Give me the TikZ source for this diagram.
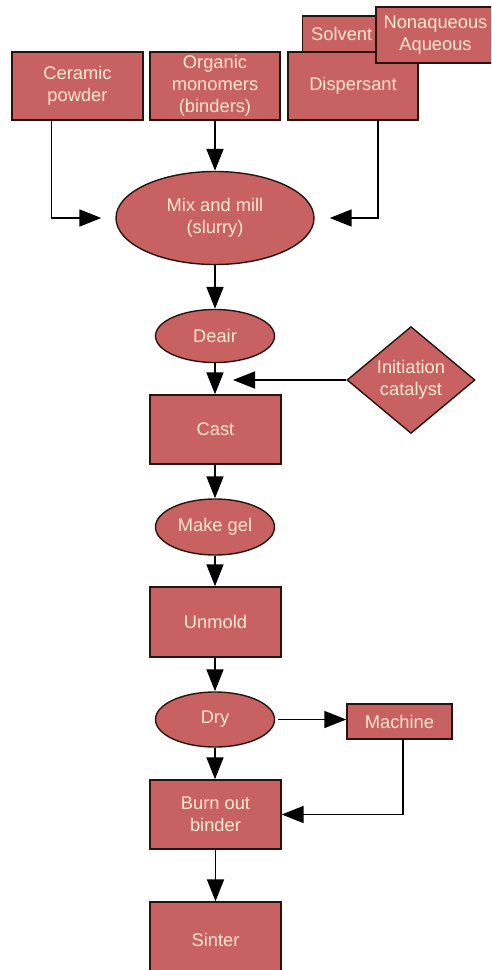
\documentclass[tikz,border=0pt]{standalone}
\usepackage{fontspec}
\setmainfont{Liberation Sans}
\usetikzlibrary{shapes.geometric,arrows.meta}
\definecolor{boxfill}{RGB}{200,98,98}
\definecolor{boxtext}{RGB}{255,232,212}
\definecolor{boxline}{RGB}{40,20,15}
\tikzset{
  base/.style={fill=boxfill, draw=boxline, line width=1.4pt, text=boxtext,
    font=\fontsize{18.3}{21.7}\selectfont, align=center, inner sep=0pt},
  rbox/.style={base, rectangle},
  oval/.style={base, ellipse},
  dia/.style={base, diamond},
  arr/.style={draw=black, line width=1.7pt, -{Triangle[length=22pt,width=17pt]}}
}
\newcommand{\lowtext}[2]{\raisebox{-#1}{\begin{tabular}{@{}c@{}}#2\end{tabular}}}
\begin{document}
\begin{tikzpicture}[x=1pt,y=-1pt]
\useasboundingbox (0,0) rectangle (491,970);
\fill[white] (0,0) rectangle (491,970);
\clip (0,0) rectangle (491,970);
% top inputs
\node[rbox, minimum width=131pt, minimum height=68pt] (cer) at (77.5,86) {\lowtext{2.5pt}{Ceramic\\powder}};
\node[rbox, minimum width=130pt, minimum height=68pt] (org) at (215,86) {\lowtext{0.5pt}{Organic\\monomers\\(binders)}};
\node[rbox, minimum width=84pt, minimum height=36pt, anchor=west] (solv) at (302,34) {\hspace*{-6pt}Solvent};
\node[rbox, minimum width=130pt, minimum height=68pt] (disp) at (353,86) {\lowtext{1.5pt}{Dispersant}};
\node[rbox, minimum width=119pt, minimum height=56pt] (nonaq) at (435.5,35) {\lowtext{3pt}{Nonaqueous\\Aqueous}};
% process chain
\node[oval, minimum width=198pt, minimum height=93pt] (mix) at (215,218) {\lowtext{2.5pt}{Mix and mill\\(slurry)}};
\node[oval, minimum width=119pt, minimum height=53pt] (deair) at (215,336) {Deair};
\node[rbox, minimum width=131pt, minimum height=69pt] (cast) at (215.5,429.5) {Cast};
\node[dia, minimum width=128pt, minimum height=83pt] (cat) at (411,380) {Initiation\\catalyst};
\node[oval, minimum width=119pt, minimum height=56pt] (gel) at (215,527) {Make gel};
\node[rbox, minimum width=131pt, minimum height=70pt] (unmold) at (215.5,622) {Unmold};
\node[oval, minimum width=119pt, minimum height=55pt] (dry) at (215,719.5) {Dry};
\node[rbox, minimum width=105pt, minimum height=35pt] (mach) at (399.5,721.5) {Machine};
\node[rbox, minimum width=131pt, minimum height=69pt] (burn) at (215.5,814.5) {Burn out\\binder};
\node[rbox, minimum width=131pt, minimum height=76pt] (sinter) at (215.5,940) {Sinter};
% connectors
\draw[arr] ([xshift=-26pt]cer.south) |- ([xshift=-14pt]mix.west);
\draw[arr] (org.south) -- (mix.north);
\draw[arr] ([xshift=25pt]disp.south) |- ([xshift=15pt]mix.east);
\draw[arr] (mix.south) -- (deair.north);
\draw[arr] (deair.south) -- (deair.south |- cast.north);
\coordinate (catin) at (233,380);
\draw[arr] (cat.west) -- (catin);
\draw[arr] (cast.south -| gel.north) -- (gel.north);
\draw[arr] (gel.south) -- (gel.south |- unmold.north);
\draw[arr] (unmold.south -| dry.north) -- (dry.north);
\draw[arr] ([xshift=3pt]dry.east) -- (dry.east -| mach.west);
\draw[arr] (dry.south) -- (dry.south |- burn.north);
\draw[arr] ([xshift=3.5pt]mach.south) |- (burn.east);
\draw[arr] (burn.south) -- (sinter.north);
\end{tikzpicture}
\end{document}
